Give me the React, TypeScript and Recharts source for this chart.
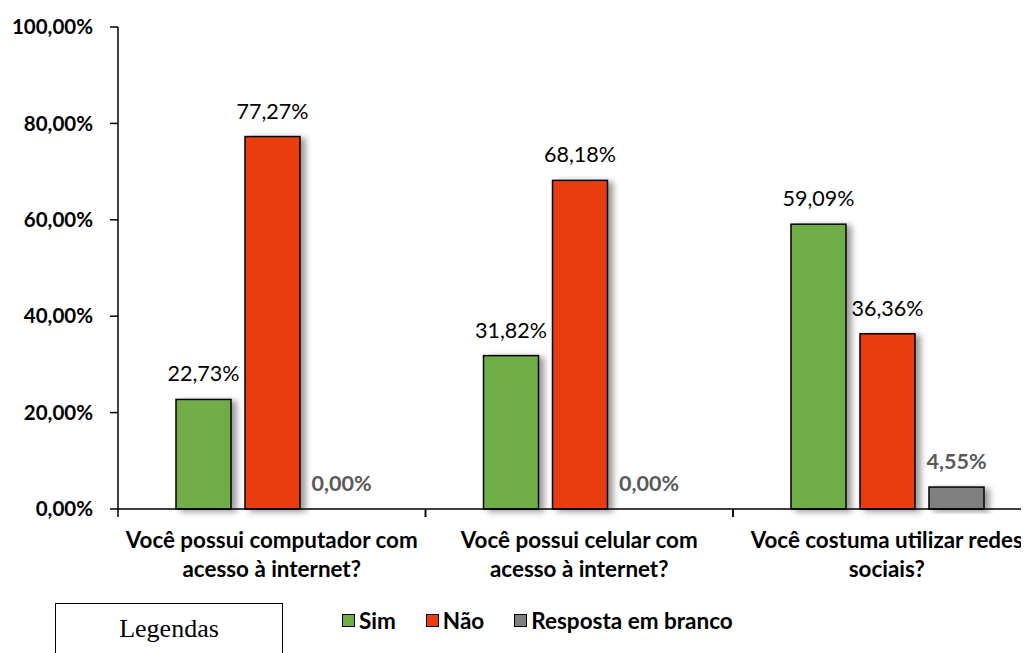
import React from "react";
import { BarChart, Bar, XAxis, YAxis, LabelList, Legend } from "recharts";

const categories = [
  "Você possui computador com acesso à internet?",
  "Você possui celular com acesso à internet?",
  "Você costuma utilizar redes sociais?",
];
const categoryLines = [
  ["Você possui computador com", "acesso à internet?"],
  ["Você possui celular com", "acesso à internet?"],
  ["Você costuma utilizar redes", "sociais?"],
];
const simValues = [22.73, 31.82, 59.09];
const naoValues = [77.27, 68.18, 36.36];
const brancoValues = [0, 0, 4.55];
const yTicks = [0, 20, 40, 60, 80, 100];

const data = categories.map((c, i) => ({
  name: c,
  sim: simValues[i],
  nao: naoValues[i],
  branco: brancoValues[i],
}));

const CHART_W = 1045;
const CHART_H = 653;
const MARGIN = { top: 27, right: 4.5, left: 0, bottom: 0 };
const Y_W = 118;
const FONT = "Lato, 'Open Sans', sans-serif";

const fmt = (v: number) => v.toFixed(2).replace(".", ",") + "%";

const series = [
  { key: "sim", name: "Sim", color: "#70AD47" },
  { key: "nao", name: "Não", color: "#EA3E10" },
  { key: "branco", name: "Resposta em branco", color: "#808080" },
];

const ShadowBar = (props: any) => {
  const { x, y, width, height, fill } = props;
  if (!height || height <= 0) return null;
  return (
    <rect
      x={x}
      y={y}
      width={width}
      height={height}
      fill={fill}
      stroke="#000"
      strokeWidth={1.5}
      filter="url(#barShadow)"
    />
  );
};

const XTick = (props: any) => {
  const { x, payload } = props;
  const plotW = CHART_W - MARGIN.left - MARGIN.right - Y_W;
  const band = plotW / categories.length;
  const lines = categoryLines[payload.index] || [payload.value];
  const axisY = CHART_H - 144;
  return (
    <g>
      <line x1={x - band / 2} x2={x - band / 2} y1={axisY} y2={axisY + 8} stroke="#000" strokeWidth={1.5} />
      <line x1={x + band / 2} x2={x + band / 2} y1={axisY} y2={axisY + 8} stroke="#000" strokeWidth={1.5} />
      <text x={x} y={axisY + 39} textAnchor="middle" fontFamily={FONT} fontWeight={700} fontSize={22.4} fill="#000">
        {lines.map((l: string, i: number) => (
          <tspan key={i} x={x} dy={i === 0 ? 0 : 29}>
            {l}
          </tspan>
        ))}
      </text>
    </g>
  );
};

const LegendContent = () => (
  <div style={{ display: "flex", alignItems: "center", fontFamily: FONT, fontWeight: 700, fontSize: 22.5, color: "#000" }}>
    {series.map((s, i) => (
      <div key={s.key} style={{ display: "flex", alignItems: "center", marginRight: i < series.length - 1 ? 30 : 0 }}>
        <span
          style={{
            display: "inline-block",
            width: 13,
            height: 13,
            background: s.color,
            border: "1.5px solid #000",
            boxSizing: "border-box",
            marginRight: 4,
          }}
        />
        <span>{s.name}</span>
      </div>
    ))}
  </div>
);

export default function App() {
  return (
    <div
      style={{
        position: "relative",
        marginLeft: -8,
        marginTop: -8,
        width: 1029,
        height: 653,
        overflow: "hidden",
        background: "#fff",
      }}
    >
      <BarChart width={CHART_W} height={CHART_H} data={data} margin={MARGIN} barCategoryGap={58} barGap={14}>
        <defs>
          <filter id="barShadow" x="-20%" y="-10%" width="160%" height="130%">
            <feDropShadow dx={5} dy={2} stdDeviation={3} floodColor="#000" floodOpacity={0.4} />
          </filter>
        </defs>
        <XAxis
          dataKey="name"
          height={144}
          interval={0}
          axisLine={{ stroke: "#000", strokeWidth: 1.5 }}
          tickLine={false}
          tick={<XTick />}
        />
        <YAxis
          width={Y_W}
          domain={[0, 100]}
          ticks={yTicks}
          tickFormatter={fmt}
          axisLine={{ stroke: "#000", strokeWidth: 1.5 }}
          tickLine={{ stroke: "#000", strokeWidth: 1.5 }}
          tickSize={8}
          tickMargin={17}
          tick={{ fontFamily: FONT, fontWeight: 700, fontSize: 20.5, fill: "#000" }}
        />
        <Legend
          layout="horizontal"
          verticalAlign="middle"
          align="center"
          wrapperStyle={{ top: 607, left: 342, width: "auto" }}
          content={<LegendContent />}
        />
        {series.map((s) => (
          <Bar key={s.key} dataKey={s.key} name={s.name} fill={s.color} isAnimationActive={false} shape={<ShadowBar />}>
            <LabelList
              dataKey={s.key}
              position="top"
              offset={18}
              formatter={(v: any) => fmt(Number(v))}
              style={{
                fontFamily: FONT,
                fontSize: 21.5,
                fontWeight: s.key === "branco" ? 700 : 400,
                fill: s.key === "branco" ? "#595959" : "#000",
              }}
            />
          </Bar>
        ))}
      </BarChart>
      <div
        style={{
          position: "absolute",
          left: 55,
          top: 603,
          width: 228,
          height: 80,
          border: "1.5px solid #000",
          boxSizing: "border-box",
          fontFamily: "'Times New Roman', 'Liberation Serif', serif",
          fontSize: 26,
          lineHeight: "30px",
          textAlign: "center",
          paddingTop: 10,
          background: "#fff",
        }}
      >
        Legendas
      </div>
    </div>
  );
}
